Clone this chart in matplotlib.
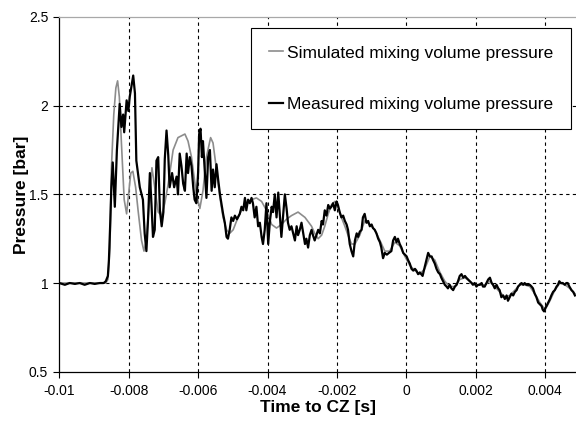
import numpy as np
import matplotlib
matplotlib.use("Agg")
import matplotlib.pyplot as plt

plt.rcParams["font.family"] = ["Liberation Sans", "DejaVu Sans"]

# ---- data (time in ms, pressure in bar) ----
measured_ms = [
    -10.00, -9.84, -9.70, -9.55, -9.41, -9.27, -9.12, -8.98, -8.83, -8.72,
    -8.66, -8.60, -8.57, -8.53, -8.50, -8.46, -8.40, -8.34, -8.26, -8.21,
    -8.16, -8.13, -8.06, -8.01, -7.97, -7.87, -7.82, -7.78, -7.68, -7.59,
    -7.54, -7.49, -7.44, -7.39, -7.34, -7.30, -7.25, -7.20, -7.15, -7.10,
    -7.05, -7.00, -6.96, -6.91, -6.86, -6.82, -6.75, -6.69, -6.62, -6.58,
    -6.53, -6.48, -6.43, -6.38, -6.33, -6.29, -6.24, -6.19, -6.14, -6.10,
    -6.05, -6.00, -5.97, -5.93, -5.89, -5.86, -5.81, -5.76, -5.71, -5.66,
    -5.61, -5.57, -5.52, -5.47, -5.42, -5.37, -5.33, -5.28, -5.23, -5.18,
    -5.14, -5.09, -5.04, -4.99, -4.94, -4.88, -4.80, -4.75, -4.70, -4.65,
    -4.61, -4.56, -4.51, -4.46, -4.42, -4.37, -4.32, -4.27, -4.22, -4.17,
    -4.13, -4.08, -4.03, -3.98, -3.93, -3.88, -3.84, -3.79, -3.74, -3.69,
    -3.65, -3.60, -3.55, -3.50, -3.45, -3.41, -3.36, -3.31, -3.26, -3.21,
    -3.16, -3.12, -3.07, -3.02, -2.97, -2.92, -2.88, -2.83, -2.78, -2.73,
    -2.69, -2.64, -2.59, -2.54, -2.49, -2.44, -2.40, -2.35, -2.30, -2.25,
    -2.20, -2.16, -2.11, -2.06, -2.01, -1.97, -1.92, -1.87, -1.82, -1.77,
    -1.72, -1.68, -1.63, -1.58, -1.53, -1.48, -1.43, -1.39, -1.34, -1.29,
    -1.25, -1.20, -1.15, -1.10, -1.05, -1.00, -0.96, -0.91, -0.86, -0.81,
    -0.76, -0.72, -0.67, -0.62, -0.56, -0.50, -0.43, -0.38, -0.33, -0.28,
    -0.24, -0.19, -0.14, -0.09, -0.04, 0.01, 0.05, 0.10, 0.15, 0.20,
    0.25, 0.29, 0.34, 0.39, 0.47, 0.53, 0.63, 0.68, 0.73, 0.77,
    0.82, 0.87, 0.92, 0.97, 1.01, 1.06, 1.11, 1.16, 1.20, 1.25,
    1.30, 1.35, 1.40, 1.45, 1.49, 1.54, 1.59, 1.64, 1.69, 1.73,
    1.78, 1.83, 1.88, 1.92, 1.97, 2.02, 2.07, 2.12, 2.17, 2.21,
    2.26, 2.31, 2.36, 2.41, 2.46, 2.50, 2.55, 2.60, 2.65, 2.69,
    2.74, 2.79, 2.84, 2.89, 2.93, 2.98, 3.03, 3.08, 3.13, 3.18,
    3.22, 3.27, 3.32, 3.37, 3.41, 3.46, 3.51, 3.56, 3.61, 3.65,
    3.70, 3.75, 3.80, 3.85, 3.90, 3.93, 3.97, 4.01, 4.04, 4.09,
    4.14, 4.18, 4.23, 4.28, 4.33, 4.37, 4.41, 4.45, 4.51, 4.57,
    4.61, 4.65, 4.70, 4.76, 4.81, 4.86,
]
measured_bar = [
    1.00, 0.99, 1.00, 0.995, 1.00, 0.99, 1.00, 0.995, 1.00, 1.00,
    1.01, 1.04, 1.13, 1.35, 1.54, 1.68, 1.43, 1.75, 2.01, 1.88,
    1.95, 1.85, 2.03, 1.97, 2.05, 2.17, 2.07, 1.69, 1.54, 1.47,
    1.28, 1.18, 1.37, 1.62, 1.43, 1.26, 1.30, 1.69, 1.71, 1.41,
    1.32, 1.40, 1.70, 1.86, 1.72, 1.54, 1.62, 1.54, 1.60, 1.50,
    1.73, 1.66, 1.56, 1.52, 1.73, 1.62, 1.71, 1.66, 1.54, 1.47,
    1.45, 1.62, 1.84, 1.87, 1.71, 1.80, 1.64, 1.48, 1.71, 1.75,
    1.52, 1.64, 1.54, 1.67, 1.58, 1.50, 1.45, 1.39, 1.34, 1.26,
    1.25, 1.30, 1.37, 1.35, 1.38, 1.36, 1.39, 1.43, 1.41, 1.48,
    1.41, 1.47, 1.45, 1.48, 1.45, 1.37, 1.43, 1.32, 1.34, 1.26,
    1.22, 1.30, 1.45, 1.22, 1.35, 1.43, 1.40, 1.50, 1.37, 1.51,
    1.40, 1.26, 1.38, 1.50, 1.42, 1.34, 1.30, 1.32, 1.28, 1.24,
    1.32, 1.27, 1.30, 1.34, 1.28, 1.22, 1.25, 1.20, 1.27, 1.30,
    1.27, 1.24, 1.27, 1.30, 1.28, 1.35, 1.33, 1.41, 1.38, 1.44,
    1.42, 1.43, 1.45, 1.41, 1.46, 1.44, 1.40, 1.37, 1.38, 1.35,
    1.33, 1.30, 1.22, 1.18, 1.15, 1.24, 1.28, 1.26, 1.29, 1.30,
    1.37, 1.39, 1.34, 1.35, 1.32, 1.33, 1.31, 1.30, 1.28, 1.25,
    1.23, 1.20, 1.14, 1.17, 1.16, 1.17, 1.18, 1.24, 1.26, 1.23,
    1.25, 1.22, 1.20, 1.17, 1.16, 1.15, 1.13, 1.11, 1.08, 1.07,
    1.08, 1.07, 1.05, 1.06, 1.04, 1.09, 1.17, 1.15, 1.15, 1.13,
    1.11, 1.08, 1.06, 1.05, 1.03, 1.01, 0.99, 0.98, 0.97, 0.99,
    0.97, 0.96, 0.98, 0.99, 1.01, 1.04, 1.05, 1.03, 1.04, 1.03,
    1.02, 1.01, 1.00, 0.99, 1.00, 0.98, 0.99, 0.99, 1.00, 0.98,
    0.98, 1.00, 1.02, 1.03, 1.00, 0.99, 0.97, 0.99, 0.97, 0.96,
    0.92, 0.93, 0.91, 0.93, 0.90, 0.92, 0.94, 0.93, 0.95, 0.96,
    0.98, 0.99, 1.00, 0.99, 1.00, 0.99, 0.99, 0.99, 0.98, 0.97,
    0.94, 0.92, 0.89, 0.88, 0.87, 0.85, 0.84, 0.86, 0.87, 0.89,
    0.91, 0.93, 0.95, 0.96, 0.98, 0.99, 1.01, 1.00, 1.00, 0.99,
    1.00, 1.00, 0.98, 0.96, 0.95, 0.93,
]

simulated_ms = [
    -10.00, -9.41, -8.83, -8.66, -8.60, -8.54, -8.50, -8.43, -8.37, -8.32,
    -8.27, -8.21, -8.13, -8.06, -8.02, -7.94, -7.88, -7.80, -7.73, -7.63,
    -7.56, -7.49, -7.39, -7.33, -7.25, -7.15, -7.05, -6.96, -6.86, -6.72,
    -6.58, -6.38, -6.29, -6.19, -6.05, -5.95, -5.86, -5.76, -5.64, -5.57,
    -5.47, -5.37, -5.28, -5.18, -5.09, -4.99, -4.89, -4.75, -4.61, -4.46,
    -4.32, -4.17, -4.03, -3.88, -3.74, -3.60, -3.45, -3.31, -3.12, -2.92,
    -2.73, -2.64, -2.54, -2.44, -2.35, -2.25, -2.16, -2.06, -1.97, -1.87,
    -1.77, -1.68, -1.58, -1.48, -1.34, -1.20, -1.05, -0.91, -0.76, -0.62,
    -0.48, -0.33, -0.19, -0.04, 0.10, 0.25, 0.39, 0.53, 0.68, 0.82,
    0.97, 1.11, 1.25, 1.40, 1.54, 1.69, 1.83, 1.97, 2.12, 2.26,
    2.41, 2.55, 2.69, 2.84, 2.98, 3.13, 3.27, 3.41, 3.56, 3.70,
    3.85, 4.00, 4.14, 4.28, 4.43, 4.57, 4.71, 4.86,
]
simulated_bar = [
    1.00, 1.00, 1.00, 1.00, 1.02, 1.20, 1.64, 1.95, 2.10, 2.14,
    2.05, 1.79, 1.47, 1.39, 1.47, 1.62, 1.63, 1.54, 1.41, 1.24,
    1.18, 1.24, 1.50, 1.65, 1.54, 1.40, 1.38, 1.45, 1.56, 1.75,
    1.82, 1.84, 1.80, 1.71, 1.50, 1.42, 1.52, 1.71, 1.82, 1.79,
    1.64, 1.48, 1.37, 1.30, 1.28, 1.30, 1.35, 1.41, 1.45, 1.47,
    1.48, 1.46, 1.41, 1.33, 1.31, 1.33, 1.36, 1.38, 1.40, 1.37,
    1.32, 1.28, 1.25, 1.27, 1.32, 1.39, 1.44, 1.46, 1.43, 1.37,
    1.32, 1.27, 1.22, 1.22, 1.27, 1.35, 1.33, 1.30, 1.24, 1.18,
    1.18, 1.23, 1.21, 1.15, 1.10, 1.07, 1.05, 1.08, 1.15, 1.13,
    1.06, 1.01, 0.98, 0.98, 1.02, 1.03, 1.01, 0.99, 0.99, 0.99,
    1.01, 0.98, 0.95, 0.92, 0.93, 0.96, 0.99, 0.99, 0.98, 0.94,
    0.89, 0.85, 0.90, 0.96, 1.00, 0.99, 0.97, 0.94,
]

x_ticks = [-0.01, -0.008, -0.006, -0.004, -0.002, 0, 0.002, 0.004]
x_tick_labels = ["-0.01", "-0.008", "-0.006", "-0.004", "-0.002", "0", "0.002", "0.004"]
y_ticks = [0.5, 1, 1.5, 2, 2.5]
y_tick_labels = ["0.5", "1", "1.5", "2", "2.5"]

t_meas = np.array(measured_ms) * 1e-3
t_sim = np.array(simulated_ms) * 1e-3

# ---- figure ----
fig = plt.figure(figsize=(5.76, 4.21), dpi=100)
ax = fig.add_axes([59.3 / 576, 1 - 371.7 / 421, (576 - 59.3) / 576, (371.7 - 17) / 421])

# interior grid only (dashed black)
for xv in x_ticks[1:]:
    ax.axvline(xv, color="black", lw=0.8, ls=(0, (3, 3)), zorder=1)
for yv in y_ticks[1:-1]:
    ax.axhline(yv, color="black", lw=0.8, ls=(0, (3, 3)), zorder=1)

ax.plot(t_sim, simulated_bar, color="#8c8c8c", lw=1.2,
        label="Simulated mixing volume pressure", zorder=3)
ax.plot(t_meas, measured_bar, color="black", lw=1.6,
        label="Measured mixing volume pressure", zorder=4)

ax.set_xlim(-0.01, -0.01 + (576 - 59.3) / 34700)
ax.set_ylim(0.5, 2.5)
ax.set_xticks(x_ticks)
ax.set_xticklabels(x_tick_labels)
ax.set_yticks(y_ticks)
ax.set_yticklabels(y_tick_labels)
ax.tick_params(direction="out", length=4, width=0.8, labelsize=10, colors="black")
ax.tick_params(axis="x", pad=5)
ax.tick_params(axis="y", pad=4)

for side in ("left", "bottom"):
    ax.spines[side].set_color("black")
    ax.spines[side].set_linewidth(0.9)
ax.spines["top"].set_color("#a8a8a8")
ax.spines["top"].set_linewidth(0.9)
ax.spines["right"].set_visible(False)

ax.set_xlabel("Time to CZ [s]", fontsize=12.5, fontweight="bold", labelpad=1)
ax.set_ylabel("Pressure [bar]", fontsize=12.5, fontweight="bold", labelpad=0)

leg = ax.legend(loc="upper right", bbox_to_anchor=(570.7 / 576, 1 - 28 / 421),
                bbox_transform=fig.transFigure, fontsize=12.5, frameon=True,
                fancybox=False, edgecolor="black", framealpha=1,
                handlelength=0.8, handletextpad=0.25, labelspacing=2.1,
                borderpad=1.0, borderaxespad=0)
leg.get_frame().set_linewidth(0.8)
leg.set_zorder(5)

fig.savefig("out.png", dpi=100)
